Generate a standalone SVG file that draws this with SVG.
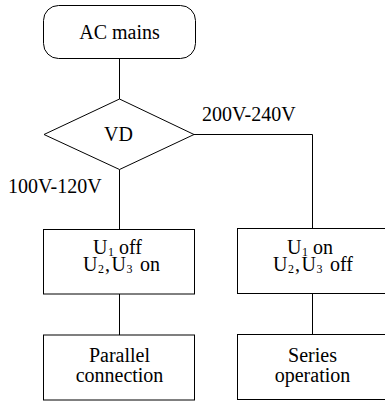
<svg xmlns="http://www.w3.org/2000/svg" width="385" height="403" viewBox="0 0 385 403">
<style>
.box{fill:#fff;stroke:#000;stroke-width:1}
.ln{fill:none;stroke:#000;stroke-width:1}
.t{font-size:20px;fill:#000}
.c{text-anchor:middle}
.s{font-size:12px;fill:#000}
</style>
<rect width="385" height="403" fill="#fff"/>
<g id="connectors">
<path class="ln" d="M119.5 58.5 V99"/>
<path class="ln" d="M194 134.5 H312.5 V228.5"/>
<path class="ln" d="M119.5 169.5 V229.5"/>
<path class="ln" d="M119.5 294 V335"/>
<path class="ln" d="M312.5 293.5 V334.5"/>
<text class="t" font-family="Liberation Serif, DejaVu Serif, serif" x="202" y="121">200V-240V</text>
<text class="t" font-family="Liberation Serif, DejaVu Serif, serif" x="8" y="193">100V-120V</text>
</g>
<g font-family="Liberation Serif, DejaVu Serif, serif">
<g id="ac">
<rect class="box" x="43.5" y="5.5" width="152" height="53" rx="15"/>
<text class="t c" x="119.5" y="39">AC mains</text>
</g>
<g id="vd">
<polygon class="box" points="119.5,99 194,134.5 119.5,169.5 44,134.5"/>
<text class="t c" x="118.5" y="141">VD</text>
</g>
<g id="left1">
<rect class="box" x="43.5" y="229.5" width="151" height="64.5"/>
<text class="t" x="93" y="254">U</text><text class="s" x="108" y="256">1</text><text class="t" x="119" y="254">off</text>
<text class="t" x="83" y="270.5">U</text><text class="s" x="98" y="272.5">2</text><text class="t" x="105" y="270.5">,</text><text class="t" x="111.5" y="270.5">U</text><text class="s" x="126.5" y="272.5">3</text><text class="t" x="140" y="270.5">on</text>
</g>
<g id="right1">
<rect class="box" x="237.5" y="228.5" width="151" height="65"/>
<text class="t" x="287" y="254">U</text><text class="s" x="302" y="256">1</text><text class="t" x="313" y="254">on</text>
<text class="t" x="273" y="270.5">U</text><text class="s" x="288" y="272.5">2</text><text class="t" x="295" y="270.5">,</text><text class="t" x="301.5" y="270.5">U</text><text class="s" x="316.5" y="272.5">3</text><text class="t" x="330" y="270.5">off</text>
</g>
<g id="left2">
<rect class="box" x="43.5" y="335" width="151" height="65"/>
<text class="t c" x="119.5" y="362">Parallel</text>
<text class="t c" x="119.5" y="382">connection</text>
</g>
<g id="right2">
<rect class="box" x="237.5" y="334.5" width="151" height="65"/>
<text class="t c" x="312.5" y="362">Series</text>
<text class="t c" x="312.5" y="382">operation</text>
</g>
</g>
</svg>
